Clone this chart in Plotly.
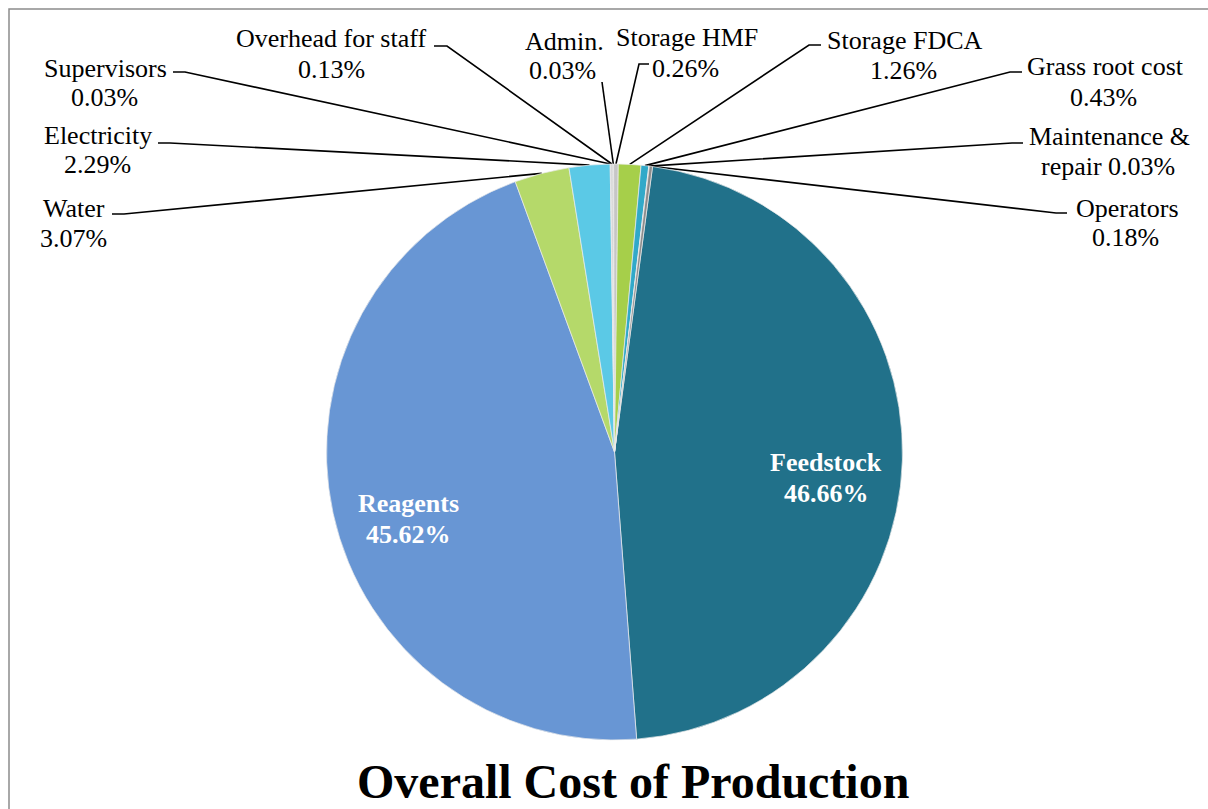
import math
import plotly.graph_objects as go

# ---------------- data ----------------
labels = ["Feedstock", "Reagents", "Water", "Electricity", "Supervisors",
          "Overhead for staff", "Admin.", "Storage HMF", "Storage FDCA",
          "Grass root cost", "Maintenance & repair", "Operators"]
values = [46.66, 45.62, 3.07, 2.29, 0.03, 0.13, 0.03, 0.26, 1.26, 0.43, 0.03, 0.18]
pct_text = ["46.66%", "45.62%", "3.07%", "2.29%", "0.03%", "0.13%", "0.03%",
            "0.26%", "1.26%", "0.43%", "0.03%", "0.18%"]
colors = ["#21718a", "#6896d4", "#b5d96a", "#5bc9e6", "#a6a6a6", "#d4d4d4",
          "#bdbdbd", "#c6c6c6", "#a6cf4a", "#31a9c9", "#e6e6e6", "#8c8c8c"]
title = "Overall Cost of Production"

# ---------------- layout constants (pixels) ----------------
W, H = 1208, 809
cx, cy, r = 614.5, 452.0, 288.0
rotation = 7.6

# outside label layout: (label index, line1 text, line1 pos, line2 text, line2 pos, start, elbow)
outside = [
    (4, "Supervisors", (105, 68), "0.03%", (104, 97), (173, 72), (185, 72)),
    (3, "Electricity", (98, 135), "2.29%", (97, 164), (158, 143), (170, 143)),
    (2, "Water", (74, 208), "3.07%", (73, 238), (112, 214), (124, 214)),
    (5, "Overhead for staff", (331, 38), "0.13%", (331, 69), (434, 46), (447, 46)),
    (6, "Admin.", (564, 41), "0.03%", (562, 70), (602, 82), (602, 82)),
    (7, "Storage HMF", (687, 37), "0.26%", (685, 68), (649, 64), (639, 64)),
    (8, "Storage FDCA", (905, 40), "1.26%", (903, 70), (821, 45), (809, 45)),
    (9, "Grass root cost", (1105, 66), "0.43%", (1103, 97), (1022, 72), (1010, 72)),
    (10, "Maintenance &", (1109, 136), "repair 0.03%", (1108, 166), (1023, 143), (1012, 143)),
    (11, "Operators", (1127, 208), "0.18%", (1125, 237), (1067, 213), (1056, 213)),
]
inside = [
    (0, "Feedstock", (826, 462), (826, 493)),
    (1, "Reagents", (408, 503), (408, 534)),
]

fig = go.Figure()

fig.add_trace(go.Pie(
    labels=labels, values=values, sort=False, direction="clockwise",
    rotation=rotation, textinfo="none", hoverinfo="label+percent",
    marker=dict(colors=colors, line=dict(color="rgba(235,235,235,0.7)", width=1)),
    domain=dict(x=[(cx - r) / W, (cx + r) / W], y=[1 - (cy + r) / H, 1 - (cy - r) / H]),
    showlegend=False,
))

# leader lines: pie end computed from the data
total = sum(values)
cum = [0.0]
for v in values:
    cum.append(cum[-1] + v)

lx, ly = [], []
for idx, t1, p1, t2, p2, st, el in outside:
    mid = rotation + (cum[idx] + values[idx] / 2) / total * 360.0
    a = math.radians(mid)
    ex, ey = cx + r * math.sin(a), cy - r * math.cos(a)
    lx += [st[0], el[0], ex, None]
    ly += [st[1], el[1], ey, None]

fig.add_trace(go.Scatter(x=lx, y=ly, mode="lines", line=dict(color="black", width=1.6),
                         hoverinfo="skip", showlegend=False))

annotations = []
font_out = dict(family="Liberation Serif, Times New Roman, serif", size=26, color="black")
for idx, t1, p1, t2, p2, st, el in outside:
    for t, p in ((t1, p1), (t2, p2)):
        annotations.append(dict(x=p[0], y=p[1], xref="x", yref="y", text=t, showarrow=False,
                                xanchor="center", yanchor="middle", font=font_out))
font_in = dict(family="Liberation Serif, Times New Roman, serif", size=26, color="white")
for idx, t1, p1, p2 in inside:
    annotations.append(dict(x=p1[0], y=p1[1], xref="x", yref="y", text="<b>%s</b>" % t1,
                            showarrow=False, xanchor="center", yanchor="middle", font=font_in))
    annotations.append(dict(x=p2[0], y=p2[1], xref="x", yref="y", text="<b>%s</b>" % pct_text[idx],
                            showarrow=False, xanchor="center", yanchor="middle", font=font_in))
annotations.append(dict(x=633, y=781, xref="x", yref="y", text="<b>%s</b>" % title,
                        showarrow=False, xanchor="center", yanchor="middle",
                        font=dict(family="Liberation Serif, Times New Roman, serif", size=48,
                                  color="black")))

fig.update_layout(
    width=W, height=H, margin=dict(l=0, r=0, t=0, b=0),
    paper_bgcolor="white", plot_bgcolor="rgba(0,0,0,0)",
    xaxis=dict(range=[0, W], visible=False, fixedrange=True, domain=[0, 1]),
    yaxis=dict(range=[H, 0], visible=False, fixedrange=True, domain=[0, 1]),
    annotations=annotations,
    shapes=[dict(type="rect", xref="x", yref="y", x0=9, y0=9, x1=W + 20, y1=H + 20,
                 line=dict(color="#8c8c8c", width=1.5), fillcolor="rgba(0,0,0,0)", layer="below")],
)

fig.write_html("out.html")
